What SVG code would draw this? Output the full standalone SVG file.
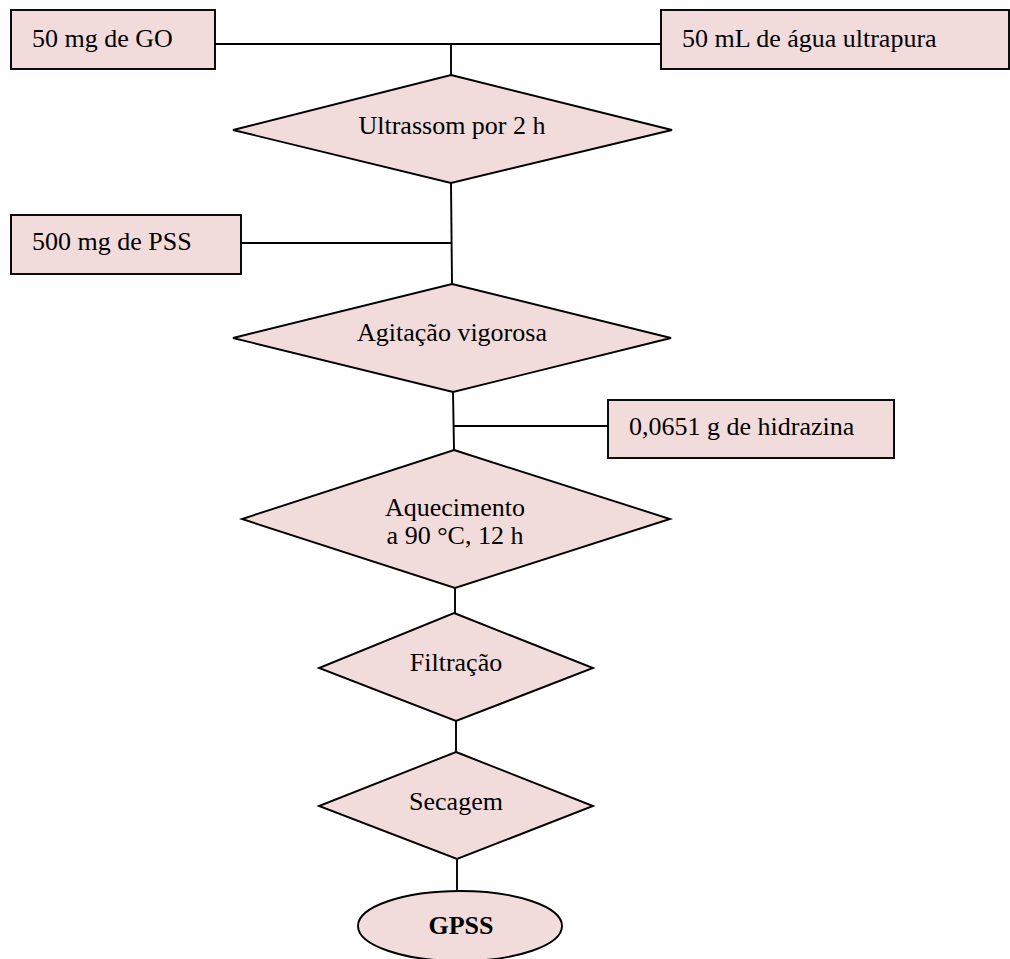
<svg xmlns="http://www.w3.org/2000/svg" width="1010" height="959" viewBox="0 0 1010 959">
<style>
.s{fill:#f2dcdb;stroke:#000;stroke-width:1.9}
.t{font-family:"Liberation Serif","Times New Roman",serif;font-size:26px;fill:#000}
.c{text-anchor:middle}
.b{font-weight:bold}
.ln{stroke:#000;stroke-width:1.9;fill:none}
</style>
<rect width="1010" height="959" fill="#fff"/>
<g id="connectors">
<line class="ln" x1="215" y1="44" x2="661" y2="44"/>
<line class="ln" x1="451" y1="44" x2="451" y2="75"/>
<line class="ln" x1="451" y1="183" x2="452" y2="284"/>
<line class="ln" x1="241" y1="243" x2="452" y2="243"/>
<line class="ln" x1="453" y1="392" x2="454" y2="450"/>
<line class="ln" x1="453" y1="426" x2="608" y2="426"/>
<line class="ln" x1="455" y1="588" x2="455" y2="613"/>
<line class="ln" x1="456" y1="721" x2="456" y2="752"/>
<line class="ln" x1="457" y1="859" x2="457" y2="891"/>
</g>
<g id="n1">
<rect class="s" x="11" y="10" width="204" height="59"/>
<text class="t" x="32" y="47">50 mg de GO</text>
</g>
<g id="n2">
<rect class="s" x="661" y="10" width="348" height="59"/>
<text class="t" x="682" y="47">50 mL de água ultrapura</text>
</g>
<g id="n3">
<polygon class="s" points="451,75 672,130 451,183 233,130"/>
<text class="t c" x="452" y="134">Ultrassom por 2 h</text>
</g>
<g id="n4">
<rect class="s" x="11" y="215" width="230" height="59"/>
<text class="t" x="32" y="250">500 mg de PSS</text>
</g>
<g id="n5">
<polygon class="s" points="452,284 671,338 453,392 233,338"/>
<text class="t c" x="452" y="341">Agitação vigorosa</text>
</g>
<g id="n6">
<rect class="s" x="608" y="400" width="286" height="58"/>
<text class="t" x="629" y="435">0,0651 g de hidrazina</text>
</g>
<g id="n7">
<polygon class="s" points="454,450 670,519 455,588 242,519"/>
<text class="t c" x="455" y="516">Aquecimento</text>
<text class="t c" x="455" y="544">a 90 °C, 12 h</text>
</g>
<g id="n8">
<polygon class="s" points="454,613 593,668 456,721 319,668"/>
<text class="t c" x="456" y="671">Filtração</text>
</g>
<g id="n9">
<polygon class="s" points="456,752 593,806 457,859 319,806"/>
<text class="t c" x="456" y="810">Secagem</text>
</g>
<g id="n10">
<ellipse class="s" cx="460" cy="926" rx="102" ry="35"/>
<text class="t c b" x="461" y="934">GPSS</text>
</g>
</svg>
